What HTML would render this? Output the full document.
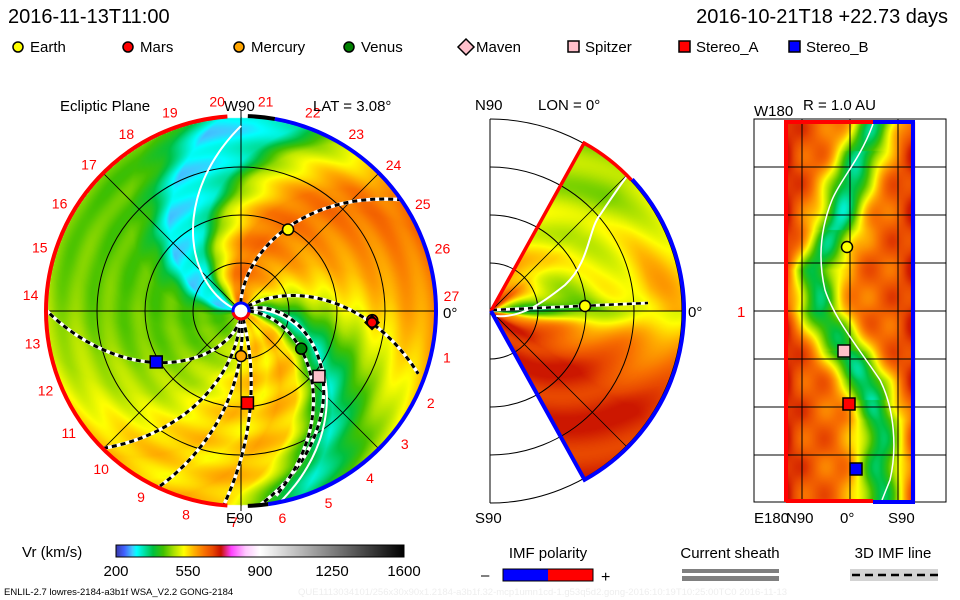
<!DOCTYPE html>
<html><head><meta charset="utf-8">
<style>
html,body{margin:0;padding:0;background:#fff;}
#wrap{position:relative;width:960px;height:600px;overflow:hidden;font-family:"Liberation Sans",sans-serif;}
canvas,svg{position:absolute;left:0;top:0;}
</style></head>
<body>
<div id="wrap">
<canvas id="cv" width="960" height="600"></canvas>
<svg id="sv" width="960" height="600" xmlns="http://www.w3.org/2000/svg" font-family="Liberation Sans, sans-serif">
  <text x="8" y="23" font-size="20">2016-11-13T11:00</text>
  <text x="948" y="23" font-size="20" text-anchor="end">2016-10-21T18 +22.73 days</text>
  <g id="legend" font-size="15"></g>
  <g id="left"></g>
  <g id="mid"></g>
  <g id="right"></g>
  <g id="bottom"></g>
</svg>
</div>
<script>
// ---- data arrays ----
const cmVals=[200,240,280,300,340,380,430,480,530,580,630,670,710,760,830,900,1600];
const cmCols=[[56,56,168],[64,96,255],[64,200,255],[0,255,255],[0,224,160],[0,192,64],[64,192,0],[168,224,0],[255,255,0],[255,176,0],[248,112,0],[232,72,0],[200,16,0],[255,64,255],[255,200,255],[255,255,255],[0,0,0]];
const cbTicks=[200,550,900,1250,1600];
// solar wind speed at outer edge of ecliptic plane, every 12 degrees from east CCW
const edgeSpeed=[600,615,630,615,550,480,330,300,290,400,440,440,450,450,460,480,490,520,550,570,540,580,555,420,330,400,470,520,555,585];
const bodyNames=["Earth","Mars","Mercury","Venus","Maven","Spitzer","Stereo_A","Stereo_B"];
const bodyColors=["#ffff00","#ff0000","#ffa500","#008000","#ffc0cb","#ffc0cb","#ff0000","#0000ff"];
const bodyShapes=["circle","circle","circle","circle","diamond","square","square","square"];
// ecliptic positions: radius (AU) and angle (deg)
const bodyR=[0.98,1.37,0.47,0.74,1.37,1.06,0.96,1.03];
const bodyAng=[60,-4,-90,-32,-5,-40,-86,-149];
const legendX=[12,122,233,343,460,567,678,788];

const S='http://www.w3.org/2000/svg';
function el(p,tag,attrs){const e=document.createElementNS(S,tag);for(const k in attrs)e.setAttribute(k,attrs[k]);p.appendChild(e);return e;}
function cmap(v){
  if(v<=cmVals[0])return cmCols[0];
  for(let i=1;i<cmVals.length;i++){if(v<=cmVals[i]){const t=(v-cmVals[i-1])/(cmVals[i]-cmVals[i-1]);const a=cmCols[i-1],b=cmCols[i];return[a[0]+(b[0]-a[0])*t,a[1]+(b[1]-a[1])*t,a[2]+(b[2]-a[2])*t];}}
  return cmCols[cmCols.length-1];
}
function edgeInterp(a){a=((a%360)+360)%360;const f=a/12;const i=Math.floor(f)%30,j=(i+1)%30,t=f-Math.floor(f);return edgeSpeed[i]*(1-t)+edgeSpeed[j]*t;}

// ---- field rendering ----
const cv=document.getElementById('cv');const ctx=cv.getContext('2d');
const img=ctx.createImageData(960,600);const D=img.data;
function put(x,y,v){if(v>705)v=705;const c=cmap(v);const k=(y*960+x)*4;D[k]=c[0];D[k+1]=c[1];D[k+2]=c[2];D[k+3]=255;}
const LX=241,LY=311,LR=194;
const MX=491,MY=311,MR=192;
const rys=[122,180,230,270,311,350,380,420,460,501],rxs=[875,850,835,815,818,845,865,880,880,880];
function streakX(y){for(let i=1;i<rys.length;i++){if(y<=rys[i]){const t=(y-rys[i-1])/(rys[i]-rys[i-1]);return rxs[i-1]+(rxs[i]-rxs[i-1])*t;}}return rxs[rxs.length-1];}
for(let y=0;y<600;y++){for(let x=0;x<960;x++){
  let dx=x-LX,dy=LY-y,r=Math.hypot(dx,dy);
  if(r<=LR){const th=Math.atan2(dy,dx)*180/Math.PI;const te=th-80*(1-r/LR);let v=edgeInterp(te)+14*Math.sin(r/5);put(x,y,v);continue;}
  dx=x-MX;dy=MY-y;r=Math.hypot(dx,dy);
  if(dx>0&&r<=MR){const ph=Math.atan2(dy,dx)*180/Math.PI;if(Math.abs(ph)<=61){let v;
    if(ph>0){const t=Math.max(0,Math.min(1,(r-60)/100))*Math.max(0,1-ph/45);v=450+170*t+240*Math.exp(-r/75)*Math.min(1,Math.max(0,(ph-10)/30));v+=25*Math.sin(r/9+ph/8);}
    else{const t=Math.min(1,-ph/35);v=570+120*t+20*Math.sin(r/11-ph/7);}
    v=v-(v-330)*Math.exp(-Math.pow(ph/7,2))*Math.exp(-r/110);put(x,y,v);continue;}}
  if(x>=785&&x<=914&&y>=122&&y<=501){const d=Math.abs(x-streakX(y));let v=370+270*(1-Math.exp(-Math.pow(d/24,2)));
    v+=70*Math.exp(-(x-785)/14)+60*Math.exp(-(914-x)/14)+30*Math.sin(x/7)*Math.sin(y/9);
    if((y>150&&y<230)||(y>350&&y<400))v-=30*Math.exp(-Math.pow(d/15,2));put(x,y,v);}
}}
ctx.putImageData(img,0,0);

const sv=document.getElementById('sv');
// ---- top legend ----
const lg=document.getElementById('legend');
bodyNames.forEach((n,i)=>{
  const g=el(lg,'g',{});
  
  
  const x=legendX[i]+6,y=47;
  if(bodyShapes[i]==='circle')el(g,'circle',{cx:x,cy:y,r:5,fill:bodyColors[i],stroke:'#000','stroke-width':1.5});
  else if(bodyShapes[i]==='diamond')el(g,'path',{d:`M${x} ${y-8}L${x+8} ${y}L${x} ${y+8}L${x-8} ${y}Z`,fill:bodyColors[i],stroke:'#000','stroke-width':1.5});
  else el(g,'rect',{x:x-5,y:y-6,width:11,height:11,fill:bodyColors[i],stroke:'#000','stroke-width':1.5});
  const t=el(g,'text',{x:x+(bodyShapes[i]==='diamond'?10:12),y:y+5});t.textContent=n;
});

// ---- left panel ----
const L=document.getElementById('left');
function txt(p,x,y,s,opts,name){const t=el(p,'text',Object.assign({x:x,y:y,'font-size':14},opts||{}));t.textContent=s;return t;}
[48,96,144].forEach(r=>el(L,'circle',{cx:LX,cy:LY,r:r,fill:'none',stroke:'#000','stroke-width':1}));
el(L,'line',{x1:LX-LR,y1:LY,x2:LX+LR,y2:LY,stroke:'#000'});
el(L,'line',{x1:LX,y1:LY-LR-6,x2:LX,y2:LY+LR+6,stroke:'#000'});
const q=LR*Math.SQRT1_2;
el(L,'line',{x1:LX-q,y1:LY-q,x2:LX+q,y2:LY+q,stroke:'#000','stroke-width':0.8});
el(L,'line',{x1:LX-q,y1:LY+q,x2:LX+q,y2:LY-q,stroke:'#000','stroke-width':0.8});
function pt(r,a){return[LX+r*Math.cos(a*Math.PI/180),LY-r*Math.sin(a*Math.PI/180)];}
function arcPath(cx,cy,r,a1,a2){const p1=[cx+r*Math.cos(a1*Math.PI/180),cy-r*Math.sin(a1*Math.PI/180)],p2=[cx+r*Math.cos(a2*Math.PI/180),cy-r*Math.sin(a2*Math.PI/180)];const large=Math.abs(a2-a1)>180?1:0;return `M${p1[0]} ${p1[1]}A${r} ${r} 0 ${large} ${a2>a1?0:1} ${p2[0]} ${p2[1]}`;}
const spirals=[[92,35,8,194,0.8],[35,-20,8,190,0.8],[18,-84,8,194,0.9],[0,-80,8,190,0.85],[-90,-180,8,194,0.6],[-92,-135,8,194,0.9],[-85,-115,8,194,1],[-75,-95,8,194,1]];
function spiralD(s){let d='';for(let r=s[2];r<=s[3];r+=3){const f=Math.pow((r-s[2])/(s[3]-s[2]),s[4]);const a=s[0]+(s[1]-s[0])*f;const p=pt(r,a);d+=(d?'L':'M')+p[0].toFixed(1)+' '+p[1].toFixed(1);}return d;}
[[160,90,8,185,0.8],[10,-78,8,194,0.95]].forEach((s,i)=>{const p=el(L,'path',{d:spiralD(s),fill:'none',stroke:'#fff','stroke-width':2});});
spirals.forEach((s,i)=>{const d=spiralD(s);el(L,'path',{d:d,fill:'none',stroke:'#fff','stroke-width':3.5});const p=el(L,'path',{d:d,fill:'none',stroke:'#000','stroke-width':3,'stroke-dasharray':'5 4'});});
el(L,'path',{d:arcPath(LX,LY,LR+1,94,266),fill:'none',stroke:'#f00','stroke-width':4});
el(L,'path',{d:arcPath(LX,LY,LR+1,-82,80),fill:'none',stroke:'#00f','stroke-width':4});
el(L,'path',{d:arcPath(LX,LY,LR+1,80,88),fill:'none',stroke:'#000','stroke-width':4});
el(L,'path',{d:arcPath(LX,LY,LR+1,-88,-82),fill:'none',stroke:'#000','stroke-width':4});
el(L,'circle',{cx:LX,cy:LY,r:8,fill:'#fff',stroke:'#00f','stroke-width':3});
el(L,'path',{d:arcPath(LX,LY,8,190,350),fill:'none',stroke:'#f00','stroke-width':3});
for(let n=1;n<=27;n++){const a=-12.7-(n-1)*13.2;const p=pt(LR+17,a);txt(L,p[0],p[1]+5,String(n),{fill:'#f00','text-anchor':'middle'},'day-label-'+n);}
bodyNames.forEach((n,i)=>{const p=pt(bodyR[i]*96,bodyAng[i]);let m;
  if(bodyShapes[i]==='circle'){m=el(L,'circle',{cx:p[0],cy:p[1],r:5.5,fill:bodyColors[i],stroke:'#000','stroke-width':1.5});}
  else if(bodyShapes[i]==='diamond'){m=el(L,'path',{d:`M${p[0]} ${p[1]-8}L${p[0]+8} ${p[1]}L${p[0]} ${p[1]+8}L${p[0]-8} ${p[1]}Z`,fill:'#000'});el(L,'circle',{cx:p[0],cy:p[1],r:4,fill:bodyColors[1]});}
  else{m=el(L,'rect',{x:p[0]-6,y:p[1]-6,width:12,height:12,fill:bodyColors[i],stroke:'#000','stroke-width':1.5});}
  });
txt(L,60,111,'Ecliptic Plane',{'font-size':15},'ecliptic-title');
txt(L,224,111,'W90',{'font-size':15},'w90-label');
txt(L,313,111,'LAT = 3.08°',{'font-size':15},'lat-label');
txt(L,226,523,'E90',{'font-size':15},'e90-label');
txt(L,443,318,'0°',{'font-size':15},'zero-deg-label');

// ---- middle panel ----
const M=document.getElementById('mid');
el(M,'line',{x1:MX-1,y1:119,x2:MX-1,y2:503,stroke:'#000'});
[48,96,144,192].forEach(r=>el(M,'path',{d:arcPath(MX-1,MY,r,90,-90),fill:'none',stroke:'#000','stroke-width':1}));
el(M,'line',{x1:MX,y1:MY,x2:MX+MR,y2:MY,stroke:'#000'});
[45,-45].forEach(a=>el(M,'line',{x1:MX,y1:MY,x2:MX+MR*Math.cos(a*Math.PI/180),y2:MY-MR*Math.sin(a*Math.PI/180),stroke:'#000','stroke-width':0.8}));
el(M,'path',{d:'M496 316 C520 318 540 305 565 285 C590 262 588 230 600 215 C610 200 620 185 628 175',fill:'none',stroke:'#fff','stroke-width':2});
el(M,'line',{x1:492,y1:310,x2:648,y2:303,stroke:'#fff','stroke-width':3});
el(M,'line',{x1:492,y1:310,x2:648,y2:303,stroke:'#000','stroke-width':2.5,'stroke-dasharray':'5 4'});
const c61=Math.cos(61*Math.PI/180),s61=Math.sin(61*Math.PI/180);
el(M,'path',{d:`M${MX} ${MY}L${MX+MR*c61} ${MY-MR*s61}`+arcPath(MX,MY,MR,61,43).replace('M','L'),fill:'none',stroke:'#f00','stroke-width':3.5});
el(M,'path',{d:arcPath(MX,MY,MR+1,43,-61)+`L${MX} ${MY}`,fill:'none',stroke:'#00f','stroke-width':4});
const mp=el(M,'circle',{cx:585,cy:306,r:5.5,fill:'#ff0',stroke:'#000','stroke-width':1.5});

txt(M,475,110,'N90',{'font-size':15},'n90-label');
txt(M,538,110,'LON = 0°',{'font-size':15},'lon-label');
txt(M,475,523,'S90',{'font-size':15},'s90-label');
txt(M,688,317,'0°',{'font-size':15},'mid-zero-label');

// ---- right panel ----
const R=document.getElementById('right');
el(R,'rect',{x:754,y:119,width:192,height:383,fill:'none',stroke:'#000'});
[802,850,898].forEach(x=>el(R,'line',{x1:x,y1:119,x2:x,y2:502,stroke:'#000'}));
[167,215,263,311,359,407,455].forEach(y=>el(R,'line',{x1:754,y1:y,x2:946,y2:y,stroke:'#000'}));
el(R,'path',{d:'M873 124 C860 160 840 180 832 200 C820 230 818 260 825 290 C835 320 860 350 880 380 C895 410 897 450 890 480 L882 500',fill:'none',stroke:'#fff','stroke-width':1.5});
el(R,'path',{d:'M786 502 L786 122 L873 122',fill:'none',stroke:'#f00','stroke-width':4});
el(R,'path',{d:'M873 122 L913 122 L913 502 L873 502',fill:'none',stroke:'#00f','stroke-width':4});
el(R,'line',{x1:786,y1:501,x2:873,y2:501,stroke:'#f00','stroke-width':4});
[[847,247,'circle',0],[844,351,'square',5],[849,404,'square',6],[856,469,'square',7]].forEach(b=>{let m;
  if(b[2]==='circle')m=el(R,'circle',{cx:b[0],cy:b[1],r:5.5,fill:'#ff0',stroke:'#000','stroke-width':1.5});
  else m=el(R,'rect',{x:b[0]-6,y:b[1]-6,width:12,height:12,fill:bodyColors[b[3]],stroke:'#000','stroke-width':1.5});
  });
txt(R,803,110,'R = 1.0 AU',{'font-size':15},'radius-label');
txt(R,754,116,'W180',{'font-size':15},'w180-label');
txt(R,754,523,'E180',{'font-size':15},'e180-label');
txt(R,786,523,'N90',{'font-size':15},'sphere-n90-label');
txt(R,840,523,'0°',{'font-size':15},'sphere-zero-label');
txt(R,888,523,'S90',{'font-size':15},'sphere-s90-label');
txt(R,737,317,'1',{'font-size':15,fill:'#f00'},'sphere-one-label');

// ---- bottom legends ----
const B=document.getElementById('bottom');
const defs=el(sv,'defs',{});const grad=el(defs,'linearGradient',{id:'cbg',x1:0,x2:1,y1:0,y2:0});
cmVals.forEach((v,i)=>{const c=cmCols[i];el(grad,'stop',{offset:((v-200)/1400).toFixed(4),'stop-color':`rgb(${c[0]},${c[1]},${c[2]})`});});
const cb=el(B,'rect',{x:116,y:545,width:288,height:12,fill:'url(#cbg)',stroke:'#000','stroke-width':1});

txt(B,22,557,'Vr (km/s)',{'font-size':15},'colorbar-title');
cbTicks.forEach(t=>txt(B,116+(t-200)/1400*288,576,String(t),{'font-size':15,'text-anchor':'middle'},'colorbar-tick-'+t));
txt(B,548,558,'IMF polarity',{'font-size':15,'text-anchor':'middle'},'imf-polarity-title');
el(B,'rect',{x:503,y:569,width:45,height:12,fill:'#00f'});
el(B,'rect',{x:548,y:569,width:45,height:12,fill:'#f00'});
el(B,'rect',{x:503,y:569,width:90,height:12,fill:'none',stroke:'#000'});
txt(B,481,580,'–',{'font-size':15},'minus-label');
txt(B,601,582,'+',{'font-size':16},'plus-label');
txt(B,730,558,'Current sheath',{'font-size':15,'text-anchor':'middle'},'current-sheath-title');
el(B,'rect',{x:682,y:569,width:97,height:4,fill:'#808080'});
el(B,'rect',{x:682,y:576,width:97,height:5,fill:'#808080'});
txt(B,893,558,'3D IMF line',{'font-size':15,'text-anchor':'middle'},'imf-line-title');
el(B,'rect',{x:850,y:569,width:88,height:12,fill:'#d3d3d3'});
el(B,'line',{x1:852,y1:575,x2:938,y2:575,stroke:'#000','stroke-width':2.5,'stroke-dasharray':'8 5'});
txt(B,4,595,'ENLIL-2.7 lowres-2184-a3b1f WSA_V2.2 GONG-2184',{'font-size':9.5},'run-info');
txt(B,298,595,'QUE1113034101/256x30x90x1.2184-a3b1f.32-mcp1umn1cd-1.g53q5d2.gong-2016:10:19T10:25:00TC0    2016-11-13',{'font-size':9.5,fill:'#eeeeee'},'run-info-faint');
</script>
</body></html>
